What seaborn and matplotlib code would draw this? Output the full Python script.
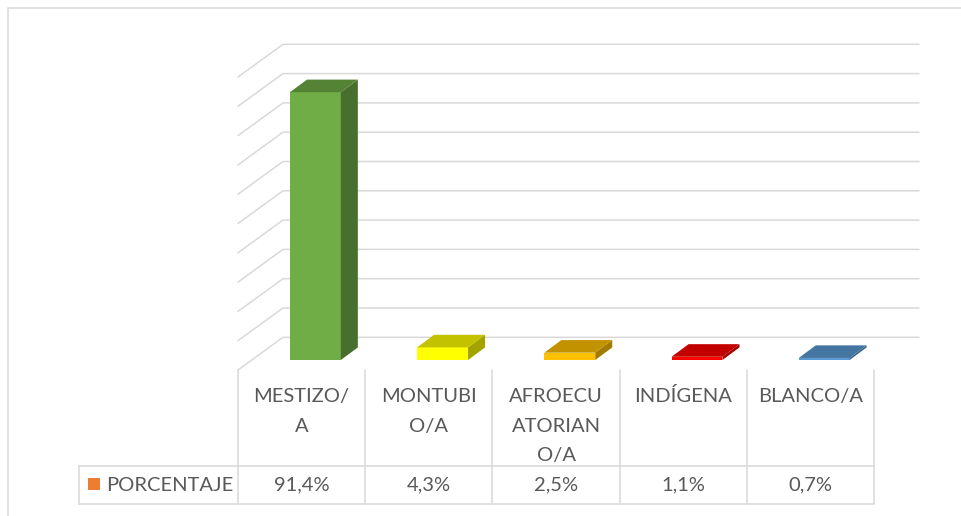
import numpy as np
import pandas as pd
import matplotlib
matplotlib.use("Agg")
import matplotlib.pyplot as plt
import matplotlib.colors as mcolors
import seaborn as sns
from matplotlib.transforms import IdentityTransform
from matplotlib.patches import Polygon, Rectangle
from matplotlib.lines import Line2D

# ---------------- data ----------------
categories = ["MESTIZO/A", "MONTUBIO/A", "AFROECUATORIANO/A", "INDÍGENA", "BLANCO/A"]
header_labels = ["MESTIZO/\nA", "MONTUBI\nO/A", "AFROECU\nATORIAN\nO/A", "INDÍGENA", "BLANCO/A"]
values = [91.4, 4.3, 2.5, 1.1, 0.7]
series_name = "PORCENTAJE"
y_ticks = list(range(0, 101, 10))

# ---------------- style ----------------
bar_colors = ["#70AD47", "#FFFF00", "#FFC000", "#FF0000", "#5B9BD5"]
legend_color = "#ED7D31"
grid_color = "#D9D9D9"
text_color = "#595959"
FS = 14.5
LW = 1.1

sns.set_theme(style="white")
plt.rcParams["font.family"] = ["Lato", "DejaVu Sans"]

W, H = 961, 516
fig = plt.figure(figsize=(W / 100, H / 100), dpi=100)
fig.patch.set_facecolor("white")
ax = fig.add_axes([251.8 / W, (H - 360) / H, 636 / W, 293 / H])

df = pd.DataFrame({"cat": categories, "val": values})
sns.barplot(data=df, x="cat", y="val", hue="cat", order=categories, hue_order=categories,
            palette=bar_colors, width=0.4, saturation=1, legend=False, ax=ax,
            edgecolor="none", linewidth=0)
ax.set_xlim(-0.5, len(categories) - 0.5)
ax.set_ylim(0, 100)
ax.set_axis_off()

ID = IdentityTransform()
FRONT = np.array([-13.8, -10.0])  # bar plane -> floor front edge
BACK = np.array([31.2, 22.7])     # bar plane -> back wall
BAR_D = np.array([17.0, 12.6])    # depth of bars
T = ax.transData.transform

# back wall gridlines + left wall diagonals
for v in y_ticks:
    pl = T((-0.5, v))
    pr = T((len(categories) - 0.5, v))
    fl, bl, br = pl + FRONT, pl + BACK, pr + BACK
    ax.add_line(Line2D([fl[0], bl[0], br[0]], [fl[1], bl[1], br[1]], transform=ID,
                       color=grid_color, lw=LW, zorder=0.2, clip_on=False,
                       solid_joinstyle="miter"))

# 3D faces of the bars
for patch in ax.patches:
    x0, w, h = patch.get_x(), patch.get_width(), patch.get_height()
    fc = np.array(patch.get_facecolor()[:3])
    tl, tr, brr = T((x0, h)), T((x0 + w, h)), T((x0 + w, 0))
    top = Polygon([tl, tr, tr + BAR_D, tl + BAR_D], closed=True, transform=ID,
                  facecolor=fc * 0.76, edgecolor="none", zorder=3, clip_on=False)
    side = Polygon([brr, tr, tr + BAR_D, brr + BAR_D], closed=True, transform=ID,
                   facecolor=fc * 0.64, edgecolor="none", zorder=3, clip_on=False)
    ax.add_patch(side)
    ax.add_patch(top)

# ---------------- data table ----------------
n = len(categories)
col_edges = [T((-0.5 + i, 0))[0] + FRONT[0] for i in range(n + 1)]
table_top = T((0, 0))[1] + FRONT[1]
row_top = H - 466
row_bot = H - 503.5
left_x = 79

for xe in col_edges:
    ax.add_line(Line2D([xe, xe], [table_top, row_bot], transform=ID, color=grid_color,
                       lw=LW, clip_on=False, zorder=0.2))
for yy in (row_top, row_bot):
    ax.add_line(Line2D([left_x, col_edges[-1]], [yy, yy], transform=ID, color=grid_color,
                       lw=LW, clip_on=False, zorder=0.2))
ax.add_line(Line2D([left_x, left_x], [row_top, row_bot], transform=ID, color=grid_color,
                   lw=LW, clip_on=False, zorder=0.2))

# legend key + series name
ax.add_patch(Rectangle((88, H - 490), 12, 12, transform=ID, facecolor=legend_color,
                       edgecolor="none", clip_on=False))
val_base = H - 490.7
ax.text(106.5, val_base, series_name, transform=ID, ha="left", va="baseline",
        fontsize=FS, color=text_color, clip_on=False)

# header labels and values
head_base = H - 402.3
line_gap = 29.6
for i in range(n):
    cx = (col_edges[i] + col_edges[i + 1]) / 2
    for k, line in enumerate(header_labels[i].split("\n")):
        ax.text(cx, head_base - k * line_gap, line, transform=ID, ha="center", va="baseline",
                fontsize=FS, color=text_color, clip_on=False)
    ax.text(cx, val_base, f"{values[i]:.1f}%".replace(".", ","), transform=ID, ha="center",
            va="baseline", fontsize=FS, color=text_color, clip_on=False)

# chart area border
fig.add_artist(Rectangle((8, -20), 1000, H - 8 + 20, transform=ID, fill=False,
                         edgecolor=grid_color, lw=LW))

fig.savefig("out.png", dpi=100, facecolor="white")
